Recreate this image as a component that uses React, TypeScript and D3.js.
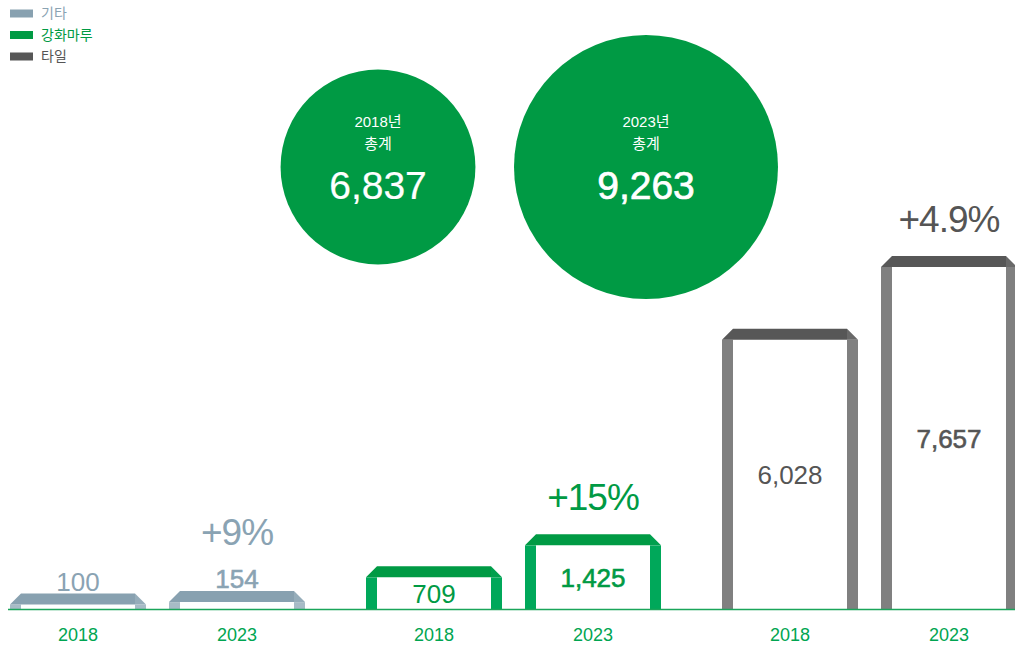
import React, { useRef, useEffect } from 'react';
import * as d3 from 'd3';

const categories = ['기타', '강화마루', '타일'];
const years = ['2018', '2023'];
const values2018 = [100, 709, 6028];
const values2023 = [154, 1425, 7657];
const growthLabels = ['+9%', '+15%', '+4.9%'];
const totalYears = ['2018년', '2023년'];
const totals = [6837, 9263];

const capColors = ['#88a1b0', '#009a44', '#575757'];
const legColors = ['#a7bbc6', '#00a85a', '#808080'];
const textColors = ['#8aa3b3', '#009a44', '#555555'];

const W = 1015;
const H = 646;

const App = () => {
  const svgRef = useRef<SVGSVGElement>(null);

  useEffect(() => {
    const svg = d3.select(svgRef.current);
    svg.selectAll('*').remove();

    const font = '"Liberation Sans", Arial, "Noto Sans CJK KR", sans-serif';
    const baseline = 609;
    const cap = 11;
    const leg = 11;

    const xGroup = d3.scaleBand<string>()
      .domain(categories)
      .range([10, 1017])
      .paddingInner(61 / 356)
      .paddingOuter(0);

    const xYear = d3.scaleBand<string>()
      .domain(years)
      .range([0, xGroup.bandwidth()])
      .paddingInner(23 / 159)
      .paddingOuter(0);

    const yScale = d3.scaleLinear()
      .domain([0, 7657])
      .range([baseline, baseline - 342]);

    const rScale = d3.scaleLinear()
      .domain([0, 9263])
      .range([0, 132]);

    // legend
    const legend = svg.append('g')
      .selectAll('g')
      .data(categories)
      .enter().append('g')
      .attr('transform', (d, i) => `translate(10,${13.5 + i * 21.5})`);

    legend.append('rect')
      .attr('x', 0)
      .attr('y', -4)
      .attr('width', 23)
      .attr('height', 8)
      .attr('fill', (d, i) => capColors[i]);

    legend.append('text')
      .attr('x', 31)
      .attr('dy', '0.35em')
      .style('font-family', font)
      .style('font-size', '14px')
      .attr('fill', (d, i) => textColors[i])
      .text(d => d);

    // total circles
    const circleCx = [378, 646];
    const circles = svg.append('g')
      .selectAll('g')
      .data(totals)
      .enter().append('g');

    circles.append('circle')
      .attr('cx', (d, i) => circleCx[i])
      .attr('cy', 167)
      .attr('r', d => rScale(d))
      .attr('fill', '#009a44');

    circles.append('text')
      .attr('x', (d, i) => circleCx[i])
      .attr('y', 127)
      .attr('text-anchor', 'middle')
      .style('font-family', font)
      .style('font-size', '15px')
      .attr('fill', '#fff')
      .text((d, i) => totalYears[i]);

    circles.append('text')
      .attr('x', (d, i) => circleCx[i])
      .attr('y', 149)
      .attr('text-anchor', 'middle')
      .style('font-family', font)
      .style('font-size', '15px')
      .attr('fill', '#fff')
      .text('총계');

    circles.append('text')
      .attr('x', (d, i) => circleCx[i])
      .attr('y', 199)
      .attr('text-anchor', 'middle')
      .style('font-family', font)
      .style('font-size', '39px')
      .attr('fill', '#fff')
      .attr('stroke', '#fff')
      .attr('stroke-width', (d, i) => i === 1 ? 0.7 : 0.2)
      .text(d => d3.format(',')(d));

    // bars
    const bars = categories.flatMap((c, ci) => years.map((y, yi) => ({
      cat: c,
      ci,
      year: y,
      yi,
      value: yi === 0 ? values2018[ci] : values2023[ci],
    })));

    const g = svg.append('g');

    bars.forEach(b => {
      const x0 = (xGroup(b.cat) ?? 0) + (xYear(b.year) ?? 0);
      const x1 = x0 + xYear.bandwidth();
      const top = yScale(b.value) - cap;
      const capBottom = top + cap;

      g.append('rect')
        .attr('x', x0)
        .attr('y', capBottom)
        .attr('width', leg)
        .attr('height', baseline - capBottom)
        .attr('fill', legColors[b.ci]);
      g.append('rect')
        .attr('x', x1 - leg)
        .attr('y', capBottom)
        .attr('width', leg)
        .attr('height', baseline - capBottom)
        .attr('fill', legColors[b.ci]);

      g.append('polygon')
        .attr('points', [[x0, capBottom], [x0 + leg, top], [x1 - leg, top], [x1 - leg, capBottom]].map(p => p.join(',')).join(' '))
        .attr('fill', capColors[b.ci]);
      g.append('polygon')
        .attr('points', [[x1 - leg, top], [x1, capBottom], [x1 - leg, capBottom]].map(p => p.join(',')).join(' '))
        .attr('fill', d3.interpolateRgb(capColors[b.ci], legColors[b.ci])(0.45));

      const cx = (x0 + x1) / 2;
      const inside = baseline - capBottom >= 20;
      const labelY = inside ? (capBottom + baseline) / 2 + 9.5 : top - 3;
      g.append('text')
        .attr('x', cx)
        .attr('y', labelY)
        .attr('text-anchor', 'middle')
        .style('font-family', font)
        .style('font-size', '26px')
        .attr('fill', textColors[b.ci])
        .attr('stroke', textColors[b.ci])
        .attr('stroke-width', b.yi === 1 ? 0.6 : 0)
        .text(d3.format(',')(b.value));

      if (b.yi === 1) {
        const topMost = inside ? top : labelY - 19;
        g.append('text')
          .attr('x', cx)
          .attr('y', topMost - 24)
          .attr('text-anchor', 'middle')
          .style('font-family', font)
          .style('font-size', '37px')
          .style('letter-spacing', '-1px')
          .attr('fill', textColors[b.ci])
          .text(growthLabels[b.ci]);
      }

      // x axis label
      g.append('text')
        .attr('x', cx)
        .attr('y', 641)
        .attr('text-anchor', 'middle')
        .style('font-family', font)
        .style('font-size', '18px')
        .attr('fill', '#00a551')
        .text(b.year);
    });

    // baseline
    svg.append('line')
      .attr('x1', 8)
      .attr('x2', W)
      .attr('y1', baseline + 0.5)
      .attr('y2', baseline + 0.5)
      .attr('stroke', '#1aa55a')
      .attr('stroke-width', 1.5);
  }, []);

  return (
    <svg
      ref={svgRef}
      width={W}
      height={H}
      style={{ position: 'absolute', left: 0, top: 0, background: '#fff' }}
    />
  );
};

export default App;
